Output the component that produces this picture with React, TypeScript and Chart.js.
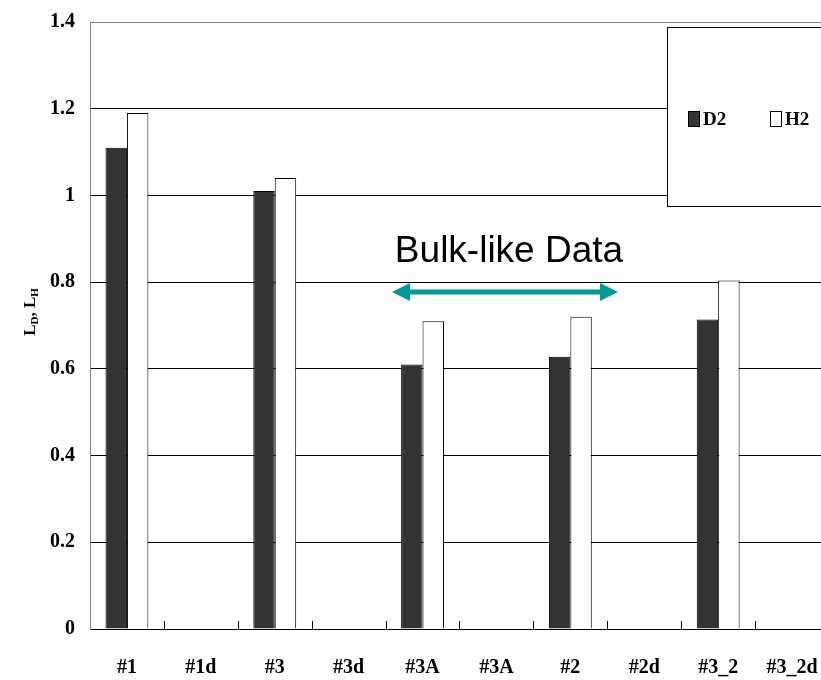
import React, { useEffect, useRef } from "react";
import { Chart, registerables } from "chart.js";

Chart.register(...registerables);

const categories = ["#1", "#1d", "#3", "#3d", "#3A", "#3A", "#2", "#2d", "#3_2", "#3_2d"];
const d2Values = [1.11, null, 1.01, null, 0.61, null, 0.628, null, 0.714, null];
const h2Values = [1.19, null, 1.04, null, 0.71, null, 0.72, null, 0.804, null];
const yTickLabels: Record<string, string> = {
  "0": "0", "0.2": "0.2", "0.4": "0.4", "0.6": "0.6", "0.8": "0.8",
  "1": "1", "1.2": "1.2", "1.4": "1.4",
};
const seriesNames = ["D2", "H2"];
const annotationText = "Bulk-like Data";

const SERIF = "'Times New Roman', 'Liberation Serif', serif";
const SANS = "Arial, 'Liberation Sans', sans-serif";

const extrasPlugin = {
  id: "extras",
  afterDraw(chart: any) {
    const ctx = chart.ctx as CanvasRenderingContext2D;
    const x = chart.scales.x;
    const area = chart.chartArea;
    ctx.save();
    // inward tick marks at category boundaries
    const step = x.getPixelForValue(1) - x.getPixelForValue(0);
    ctx.strokeStyle = "#000";
    ctx.lineWidth = 1;
    for (let i = 1; i < categories.length; i++) {
      const px = Math.round(x.getPixelForValue(0) + (i - 0.5) * step) + 0.5;
      ctx.beginPath();
      ctx.moveTo(px, area.bottom);
      ctx.lineTo(px, area.bottom - 8);
      ctx.stroke();
    }

    // legend box
    ctx.fillStyle = "#fff";
    ctx.fillRect(667.5, 27.5, 200, 179);
    ctx.strokeStyle = "#000";
    ctx.strokeRect(667.5, 27.5, 200, 179);
    const fills = ["#333333", "#ffffff"];
    const xs = [688, 770];
    ctx.font = `bold 19px ${SERIF}`;
    ctx.textBaseline = "middle";
    ctx.textAlign = "left";
    seriesNames.forEach((n, i) => {
      ctx.fillStyle = fills[i];
      ctx.fillRect(xs[i] + 0.5, 111.5, 11, 15);
      ctx.strokeStyle = "#000";
      ctx.strokeRect(xs[i] + 0.5, 111.5, 11, 15);
      ctx.fillStyle = "#000";
      ctx.fillText(n, xs[i] + 15, 120);
    });

    // annotation
    ctx.font = `37px ${SANS}`;
    ctx.textAlign = "center";
    ctx.textBaseline = "alphabetic";
    ctx.fillStyle = "#000";
    ctx.fillText(annotationText, 509, 262);

    // double arrow
    const teal = "#009999";
    ctx.strokeStyle = teal;
    ctx.fillStyle = teal;
    ctx.lineWidth = 5;
    ctx.beginPath();
    ctx.moveTo(405, 292);
    ctx.lineTo(604, 292);
    ctx.stroke();
    ctx.beginPath();
    ctx.moveTo(392, 292);
    ctx.lineTo(410, 283);
    ctx.lineTo(410, 301);
    ctx.closePath();
    ctx.fill();
    ctx.beginPath();
    ctx.moveTo(618, 292);
    ctx.lineTo(600, 283);
    ctx.lineTo(600, 301);
    ctx.closePath();
    ctx.fill();

    // y-axis title with subscripts
    ctx.translate(29, 312);
    ctx.rotate(-Math.PI / 2);
    const parts: [string, boolean][] = [["L", false], ["D", true], [", L", false], ["H", true]];
    const big = `bold 17px ${SERIF}`;
    const small = `bold 11px ${SERIF}`;
    let total = 0;
    parts.forEach(([t, sub]) => {
      ctx.font = sub ? small : big;
      total += ctx.measureText(t).width;
    });
    let cx = -total / 2;
    ctx.fillStyle = "#000";
    ctx.textAlign = "left";
    ctx.textBaseline = "alphabetic";
    parts.forEach(([t, sub]) => {
      ctx.font = sub ? small : big;
      ctx.fillText(t, cx, sub ? 9 : 6);
      cx += ctx.measureText(t).width;
    });
    ctx.restore();
  },
};

export default function App() {
  const ref = useRef<HTMLCanvasElement>(null);
  useEffect(() => {
    if (!ref.current) return;
    const chart = new Chart(ref.current, {
      type: "bar",
      data: {
        labels: categories,
        datasets: [
          {
            label: seriesNames[0],
            data: d2Values as any,
            backgroundColor: "#333333",
            borderColor: "#000",
            borderWidth: 1,
          },
          {
            label: seriesNames[1],
            data: h2Values as any,
            backgroundColor: "#ffffff",
            borderColor: "#000",
            borderWidth: 1,
          },
        ],
      },
      options: {
        animation: false,
        responsive: false,
        maintainAspectRatio: false,
        layout: { padding: { top: 22, right: 1, left: 0, bottom: 0 } },
        datasets: { bar: { categoryPercentage: 0.58, barPercentage: 1 } },
        plugins: { legend: { display: false }, tooltip: { enabled: false } },
        scales: {
          x: {
            grid: { drawOnChartArea: false, drawTicks: false },
            border: { color: "#000", width: 1 },
            ticks: {
              color: "#000",
              font: { family: SERIF, size: 20, weight: "bold" },
              padding: 27,
              maxRotation: 0,
              autoSkip: false,
            },
            afterFit(scale: any) {
              scale.height = 51;
              scale.paddingLeft = 0;
              scale.paddingRight = 0;
            },
          },
          y: {
            min: 0,
            max: 1.4,
            grid: {
              drawTicks: false,
              color: (c: any) => (c.tick && Math.abs(c.tick.value - 1.4) < 1e-6 ? "#808080" : "#000"),
            },
            border: { color: "#808080", width: 1 },
            ticks: {
              stepSize: 0.2,
              color: "#000",
              padding: 15,
              font: { family: SERIF, size: 20, weight: "bold" },
              callback: (v: any) => yTickLabels[String(Math.round(Number(v) * 10) / 10)] ?? String(v),
            },
            afterFit(scale: any) {
              scale.width = 90;
              scale.paddingTop = 0;
              scale.paddingBottom = 0;
            },
          },
        },
      },
      plugins: [extrasPlugin],
    });
    return () => chart.destroy();
  }, []);
  return (
    <div style={{ position: "fixed", left: 0, top: 0, width: 821, height: 680, overflow: "hidden", background: "#fff" }}>
      <canvas ref={ref} width={830} height={680} style={{ display: "block", width: 830, height: 680 }} />
    </div>
  );
}
